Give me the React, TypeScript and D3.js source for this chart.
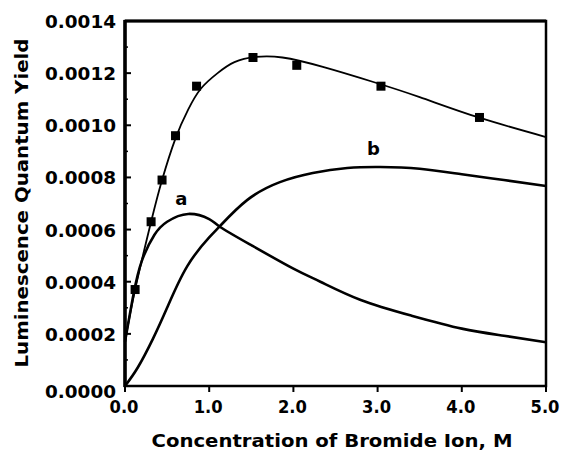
import * as React from 'react';
import * as d3 from 'd3';

// fitted curve through the measured points
const fitX = [0, 0.12, 0.31, 0.44, 0.6, 0.75, 0.9, 1.1, 1.3, 1.55, 1.87, 2.35, 2.95, 3.5, 4.2, 5.0];
const fitY = [0.00017, 0.00037, 0.00063, 0.00079, 0.00095, 0.00106, 0.00114, 0.0012, 0.001242, 0.001262, 0.00126, 0.001224, 0.001166, 0.001108, 0.00103, 0.000955];

// measured points (squares)
const pointX = [0.12, 0.31, 0.44, 0.6, 0.85, 1.52, 2.04, 3.04, 4.21];
const pointY = [0.00037, 0.00063, 0.00079, 0.00096, 0.00115, 0.00126, 0.00123, 0.00115, 0.00103];

// curve a
const aX = [0, 0.1, 0.2, 0.35, 0.5, 0.75, 1.0, 1.13, 1.5, 2.0, 2.32, 2.8, 3.4, 4.0, 4.5, 5.0];
const aY = [0.00017, 0.00035, 0.00048, 0.00058, 0.00063, 0.00066, 0.00064, 0.00061, 0.00054, 0.00045, 0.0004, 0.00033, 0.00027, 0.00022, 0.000193, 0.000168];

// curve b
const bX = [0, 0.15, 0.33, 0.5, 0.74, 1.0, 1.13, 1.45, 1.84, 2.23, 2.64, 3.03, 3.5, 4.0, 4.5, 5.0];
const bY = [0, 0.00007, 0.00018, 0.0003, 0.00046, 0.00057, 0.000614, 0.000713, 0.000782, 0.000817, 0.000836, 0.00084, 0.000833, 0.000812, 0.00079, 0.000767];

const xTicks = [0, 1, 2, 3, 4, 5];
const yTicks = [0, 0.0002, 0.0004, 0.0006, 0.0008, 0.001, 0.0012, 0.0014];

const curveLabels = ['a', 'b'];
const curveLabelX = [0.67, 2.95];
const curveLabelY = [0.000695, 0.000886];

const width = 561;
const height = 455;
const font = 'DejaVu Sans, sans-serif';

export default function App() {
  const x = d3.scaleLinear().domain([0, 5]).range([125, 546]);
  const y = d3.scaleLinear().domain([0, 0.0014]).range([386, 21]);

  const line = d3
    .line<[number, number]>()
    .x(d => x(d[0]))
    .y(d => y(d[1]))
    .curve(d3.curveNatural);

  const fit = line(fitX.map((v, i) => [v, fitY[i]]));
  const curveA = line(aX.map((v, i) => [v, aY[i]]));
  const curveB = line(bX.map((v, i) => [v, bY[i]]));

  const minorY = d3.range(0.0001, 0.0014, 0.0002);

  return (
    <svg
      width={width}
      height={height}
      style={{ position: 'absolute', left: 0, top: 0, background: '#fff' }}
    >
      <rect x={0} y={0} width={width} height={height} fill="#fff" />

      <path d={curveB || ''} fill="none" stroke="#000" strokeWidth={2.6} />
      <path d={curveA || ''} fill="none" stroke="#000" strokeWidth={2.6} />
      <path d={fit || ''} fill="none" stroke="#000" strokeWidth={1.8} />

      {pointX.map((v, i) => (
        <rect key={i} x={x(v) - 4.5} y={y(pointY[i]) - 4.5} width={9} height={9} fill="#000" />
      ))}

      {curveLabels.map((t, i) => (
        <text
          key={t}
          x={x(curveLabelX[i])}
          y={y(curveLabelY[i])}
          textAnchor="middle"
          fontFamily={font}
          fontWeight="bold"
          fontSize={18}
        >
          {t}
        </text>
      ))}

      {/* frame */}
      <rect x={x(0)} y={y(0.0014)} width={x(5) - x(0)} height={y(0) - y(0.0014)} fill="none" stroke="#000" strokeWidth={2.5} />
      <line x1={x(0)} x2={x(0)} y1={y(0.0014) - 1} y2={y(0) + 1} stroke="#000" strokeWidth={3.5} />
      <line x1={x(0)} x2={x(5)} y1={y(0.0014)} y2={y(0.0014)} stroke="#000" strokeWidth={3.2} />

      {yTicks.map(t => (
        <g key={t}>
          <line x1={x(0)} x2={x(0) + 6} y1={y(t)} y2={y(t)} stroke="#000" strokeWidth={2} />
          <text
            x={116}
            y={y(t) + (t === 0 ? 12 : 7)}
            textAnchor="end"
            fontFamily={font}
            fontWeight="bold"
            fontSize={17}
            textLength={71}
            lengthAdjust="spacingAndGlyphs"
          >
            {t.toFixed(4)}
          </text>
        </g>
      ))}
      {minorY.map(t => (
        <line key={t} x1={x(0)} x2={x(0) + 3} y1={y(t)} y2={y(t)} stroke="#000" strokeWidth={1.5} />
      ))}

      {xTicks.map(t => (
        <g key={t}>
          <line x1={x(t)} x2={x(t)} y1={y(0)} y2={y(0) + 6} stroke="#000" strokeWidth={2} />
          <text
            x={x(t) - 1}
            y={413}
            textAnchor="middle"
            fontFamily={font}
            fontWeight="bold"
            fontSize={17}
            textLength={29}
            lengthAdjust="spacingAndGlyphs"
          >
            {t.toFixed(1)}
          </text>
        </g>
      ))}

      <text
        x={332}
        y={447}
        textAnchor="middle"
        fontFamily={font}
        fontWeight="bold"
        fontSize={18}
        textLength={361}
        lengthAdjust="spacingAndGlyphs"
      >
        Concentration of Bromide Ion, M
      </text>
      <text
        transform="translate(28,203) rotate(-90)"
        textAnchor="middle"
        fontFamily={font}
        fontWeight="bold"
        fontSize={18}
        textLength={329}
        lengthAdjust="spacingAndGlyphs"
      >
        Luminescence Quantum Yield
      </text>
    </svg>
  );
}
